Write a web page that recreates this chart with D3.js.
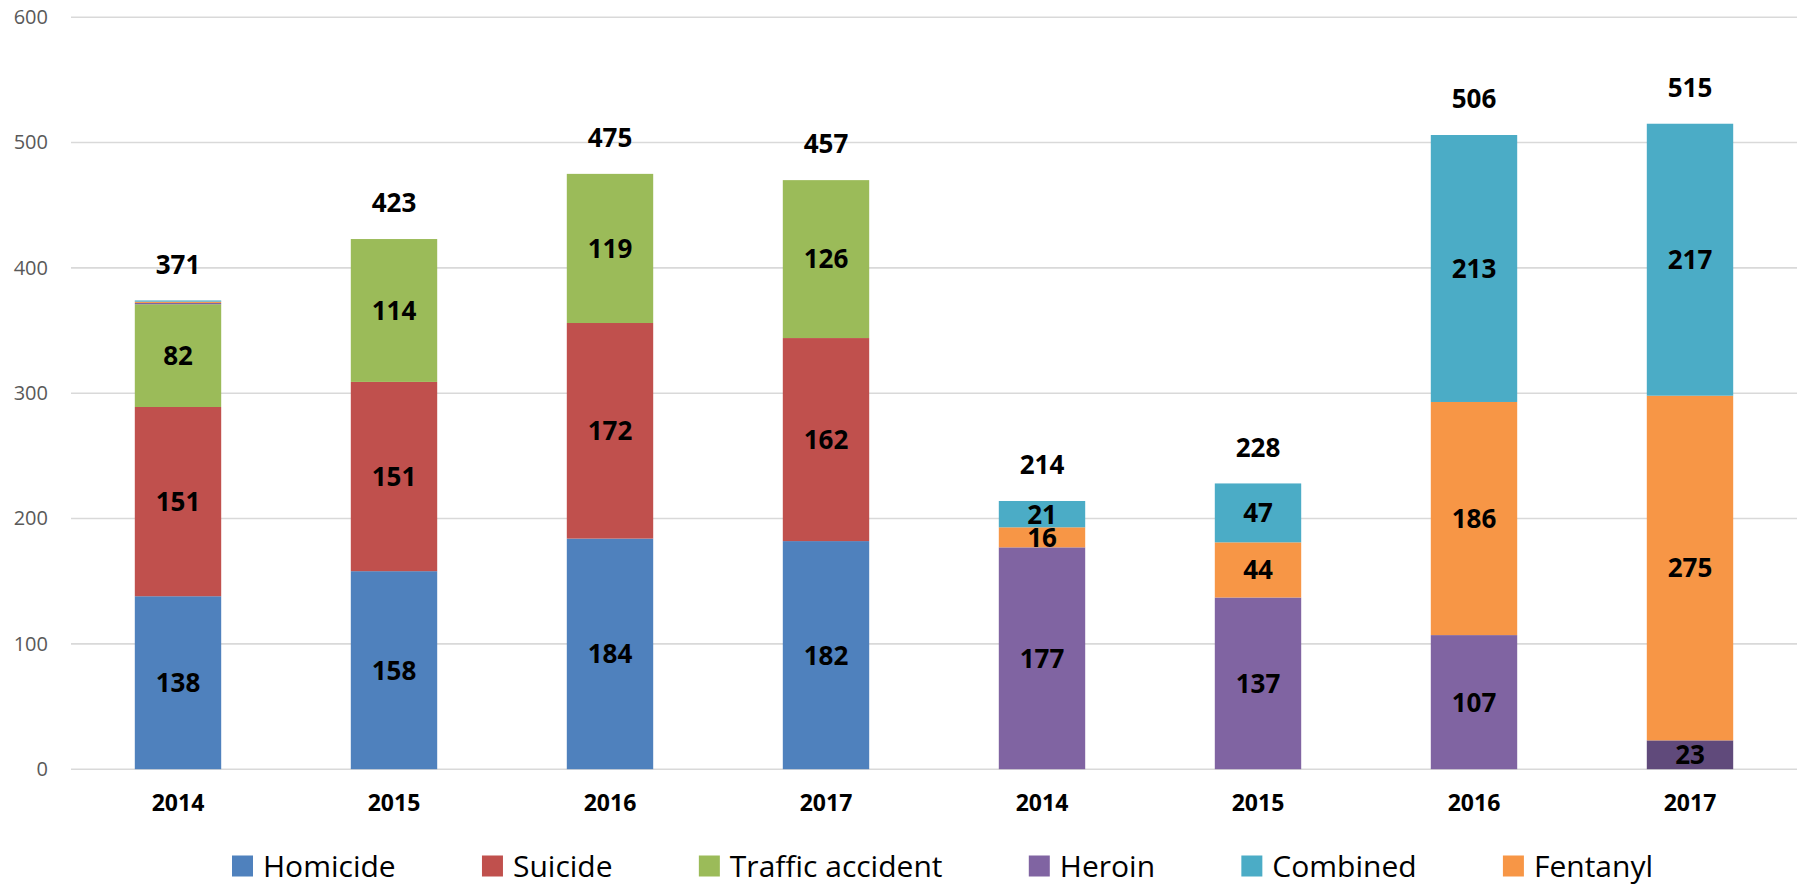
<!DOCTYPE html>
<html>
<head>
<meta charset="utf-8">
<script src="https://cdn.jsdelivr.net/npm/d3@7"></script>
<style>
  html, body { margin: 0; padding: 0; background: #fff; }
  svg { display: block; font-family: "Open Sans", "Noto Sans", sans-serif; }
</style>
</head>
<body>
<svg id="chart" width="1800" height="887"></svg>
<script>
// ---- data ----
const years = ["2014", "2015", "2016", "2017", "2014", "2015", "2016", "2017"];
const homicide = [138, 158, 184, 182, 0, 0, 0, 0];
const suicide = [151, 151, 172, 162, 0, 0, 0, 0];
const traffic = [82, 114, 119, 126, 0, 0, 0, 0];
const heroin = [1, 0, 0, 0, 177, 137, 107, 23];
const fentanyl = [1, 0, 0, 0, 16, 44, 186, 275];
const combined = [1, 0, 0, 0, 21, 47, 213, 217];
const totals = [371, 423, 475, 457, 214, 228, 506, 515];
const yTicks = [0, 100, 200, 300, 400, 500, 600];
const legendOrder = ["Homicide", "Suicide", "Traffic accident", "Heroin", "Combined", "Fentanyl"];

// ---- styles ----
const colors = {
  "Homicide": "#4F81BD",
  "Suicide": "#C0504D",
  "Traffic accident": "#9BBB59",
  "Heroin": "#8064A2",
  "Combined": "#4BACC6",
  "Fentanyl": "#F79646"
};
const pointOverride = { series: "Heroin", index: 7, color: "#604A7B" };

const seriesList = [
  { name: "Homicide", values: homicide },
  { name: "Suicide", values: suicide },
  { name: "Traffic accident", values: traffic },
  { name: "Heroin", values: heroin },
  { name: "Combined", values: combined },
  { name: "Fentanyl", values: fentanyl }
];
// stacking order bottom-to-top
const stackKeys = ["Homicide", "Suicide", "Traffic accident", "Heroin", "Fentanyl", "Combined"];

const svg = d3.select("#chart");
const margin = { left: 70, right: 2, top: 17.2, bottom: 117.8 };
const W = 1800, H = 887;

const x = d3.scaleBand()
  .domain(d3.range(years.length))
  .range([margin.left, W - margin.right])
  .paddingInner(0.6)
  .paddingOuter(0.3);

const y = d3.scaleLinear()
  .domain([0, 600])
  .range([H - margin.bottom, margin.top]);

// gridlines
svg.append("g")
  .selectAll("line")
  .data(yTicks)
  .join("line")
  .attr("x1", margin.left + 1)
  .attr("x2", W - 3)
  .attr("y1", d => y(d))
  .attr("y2", d => y(d))
  .attr("stroke", "#D9D9D9")
  .attr("stroke-width", 1.6);

// y axis labels
const yAxis = d3.axisLeft(y).tickValues(yTicks).tickSize(0).tickPadding(0);
const yg = svg.append("g")
  .attr("transform", `translate(${48},0)`)
  .call(yAxis);
yg.select(".domain").remove();
yg.selectAll("text")
  .attr("font-family", "'Open Sans', sans-serif")
  .attr("font-size", 20)
  .attr("fill", "#595959");

// stacked data
const table = years.map((yr, i) => {
  const row = { idx: i };
  seriesList.forEach(s => row[s.name] = s.values[i]);
  return row;
});
const stacked = d3.stack().keys(stackKeys)(table);

const barsG = svg.append("g");
stacked.forEach(layer => {
  barsG.append("g")
    .selectAll("rect")
    .data(layer.map((d, i) => ({ d, i, key: layer.key })).filter(p => p.d[1] - p.d[0] > 0))
    .join("rect")
    .attr("x", p => x(p.i))
    .attr("width", x.bandwidth())
    .attr("y", p => y(p.d[1]))
    .attr("height", p => y(p.d[0]) - y(p.d[1]))
    .attr("fill", p => (p.key === pointOverride.series && p.i === pointOverride.index) ? pointOverride.color : colors[p.key]);
});

// segment labels
const labG = svg.append("g");
stacked.forEach(layer => {
  layer.forEach((d, i) => {
    const v = d[1] - d[0];
    if (v < 5) return;
    labG.append("text")
      .attr("x", x(i) + x.bandwidth() / 2)
      .attr("y", y((d[0] + d[1]) / 2))
      .attr("dy", "0.36em")
      .attr("text-anchor", "middle")
      .attr("font-size", 26)
      .attr("font-weight", 700)
      .attr("fill", "#000")
      .text(v);
  });
});

// total labels
const tops = years.map((_, i) => d3.sum(seriesList, s => s.values[i]));
svg.append("g")
  .selectAll("text")
  .data(totals)
  .join("text")
  .attr("x", (d, i) => x(i) + x.bandwidth() / 2)
  .attr("y", (d, i) => y(tops[i]) - 36)
  .attr("dy", "0.36em")
  .attr("text-anchor", "middle")
  .attr("font-size", 26)
  .attr("font-weight", 700)
  .attr("fill", "#000")
  .text(d => d);

// x axis labels
const xAxis = d3.axisBottom(x).tickFormat(i => years[i]).tickSize(0).tickPadding(0);
const xg = svg.append("g")
  .attr("transform", `translate(0,${803})`)
  .call(xAxis);
xg.select(".domain").remove();
xg.selectAll("text")
  .attr("dy", "0.36em")
  .attr("font-family", "'Open Sans', sans-serif")
  .attr("font-size", 23)
  .attr("font-weight", 700)
  .attr("fill", "#000");

// legend
const legendG = svg.append("g");
const items = legendOrder.map(name => {
  const g = legendG.append("g");
  g.append("rect").attr("width", 21).attr("height", 21).attr("y", -10.5).attr("fill", colors[name]);
  const t = g.append("text")
    .attr("x", 31)
    .attr("dy", "0.36em")
    .attr("font-size", 30)
    .attr("fill", "#000")
    .text(name);
  return { g, w: 31 + t.node().getComputedTextLength() };
});
const legStart = 232, legEnd = 1653;
const sumW = d3.sum(items, it => it.w);
const gap = (legEnd - legStart - sumW) / (items.length - 1);
let cx = legStart;
items.forEach(it => {
  it.g.attr("transform", `translate(${cx},866)`);
  cx += it.w + gap;
});
</script>
</body>
</html>
